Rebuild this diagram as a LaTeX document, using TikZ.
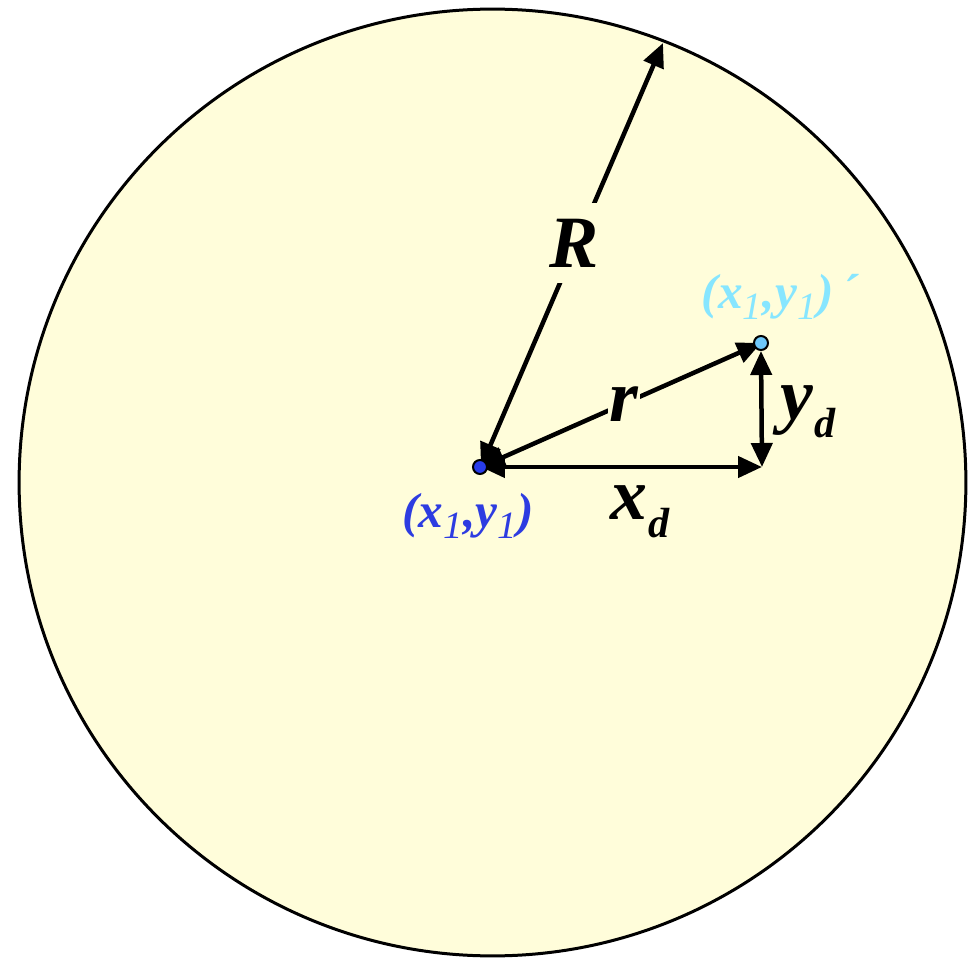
\documentclass[tikz,border=0pt]{standalone}
\usepackage{fontspec}
\setmainfont{Liberation Serif}
\usetikzlibrary{arrows.meta}
\definecolor{bgy}{RGB}{255,253,218}
\definecolor{dotblue}{RGB}{40,60,235}
\definecolor{lblblue}{RGB}{45,60,225}
\definecolor{lblcyan}{RGB}{135,230,255}
\definecolor{dotcyan}{RGB}{110,200,250}
\newcommand{\subone}{\textsubscript{\fontsize{22}{22}\selectfont\mdseries 1}}
\tikzset{
  arr/.style={line width=0.09cm, {Triangle[length=0.48cm,width=0.42cm]}-{Triangle[length=0.48cm,width=0.42cm]}},
  biglbl/.style={font=\fontsize{42}{44}\selectfont\bfseries\itshape, fill=bgy, inner sep=1pt},
  ptlbl/.style={font=\fontsize{28}{30}\selectfont\bfseries\itshape, inner sep=0pt},
  dot/.style={circle, draw=black, line width=0.04cm, minimum size=0.28cm, inner sep=0pt}
}
\begin{document}
\begin{tikzpicture}[x=0.02cm,y=-0.02cm]
\useasboundingbox (0,0) rectangle (975,970);
\node[circle, draw=black, line width=0.06cm, fill=bgy, minimum size=18.94cm, inner sep=0pt] (circ) at (492.5,482.5) {};
\coordinate (c) at (481,467);
\coordinate (rtop) at (663,43);
\coordinate (pp) at (761,343);
\coordinate (corner) at (762,467);
\draw[arr] (c) -- (rtop);
\draw[arr] (c) -- (pp);
\draw[arr] (c) -- (corner);
\draw[arr] ([yshift=-0.16cm]pp) -- (corner);
\node[biglbl, inner ysep=9pt] (Rl) at (574,243) {R};
\node[biglbl] (rl) at (624,404) {r};
\node[biglbl, fill=none] (xl) at (640,512) {x\kern1pt\raisebox{-0.25em}{\fontsize{24}{26}\selectfont d}};
\node[biglbl, fill=none] (yl) at (808,412) {y\kern1pt\raisebox{-0.25em}{\fontsize{24}{26}\selectfont d}};
\node[dot, fill=dotblue] (cdot) at (480,467) {};
\node[dot, fill=dotcyan] (pdot) at (761,343) {};
\node[ptlbl, text=lblblue] (cl) at (468,516) {(x\subone,y\subone)};
\node[ptlbl, text=lblcyan] (pl) at (780,297) {(x\subone,y\subone)\,´};
\end{tikzpicture}
\end{document}
